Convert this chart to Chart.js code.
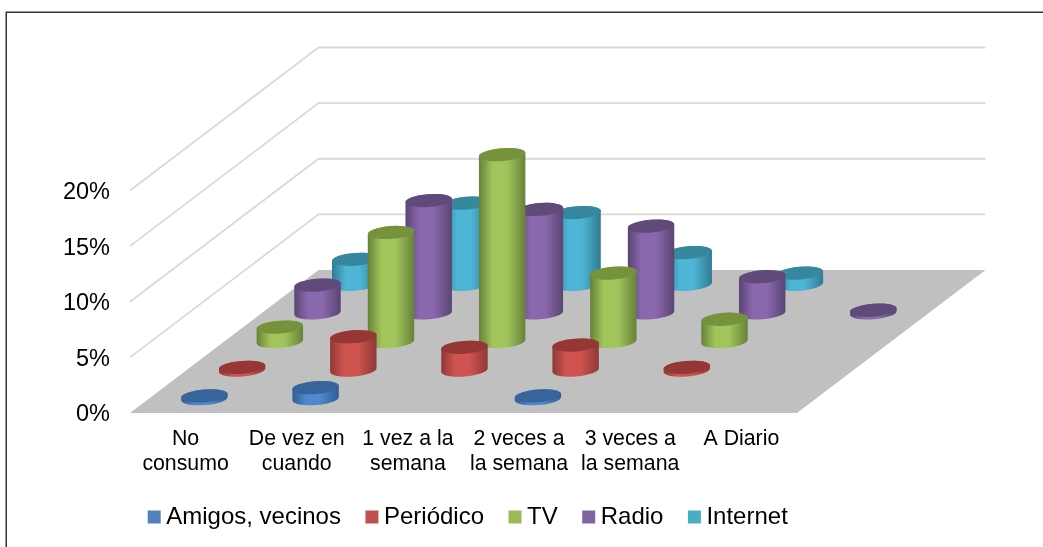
<!DOCTYPE html>
<html><head><meta charset="utf-8">
<style>html,body{margin:0;padding:0;background:#fff}#w{position:relative;width:1043px;height:547px}</style>
<script src="https://cdn.jsdelivr.net/npm/chart.js@4"></script>
</head><body><div id="w"><canvas id="c" width="1043" height="547"></canvas></div>
<script>
const categories = [["No","consumo"],["De vez en","cuando"],["1 vez a la","semana"],["2 veces a","la semana"],["3 veces a","la semana"],"A Diario"];
const amigos    = [0.25, 1.0, null, 0.25, null, null];
const periodico = [0.25, 3.0, 2.05, 2.25, 0.25, null];
const tv        = [1.3, 9.8, 16.8, 6.15, 2.0, null];
const radio     = [2.5, 10.1, 9.3, 7.8, 3.25, 0.25];
const internet  = [2.25, 7.3, 6.45, 2.85, 1.0, null];
const seriesNames = ["Amigos, vecinos","Periódico","TV","Radio","Internet"];
const seriesValues = [amigos, periodico, tv, radio, internet];
const legendColors = ["#4F81BD","#C0504D","#9BBB59","#8064A2","#4BACC6"];
const shades = [
 {mid:"#4F88CC",edge:"#2F5E94",top:"#37659B"},
 {mid:"#CF5450",edge:"#8F3835",top:"#943735"},
 {mid:"#A1C55B",edge:"#67813A",top:"#76923C"},
 {mid:"#8A68AE",edge:"#5A4573",top:"#5F4A7A"},
 {mid:"#4EB5D6",edge:"#2F7B92",top:"#37879E"}
];
const DEPTH_X = 188.5, DEPTH_Y = 143, FONT = '"Liberation Sans", Arial, sans-serif';
const TILT = -4.5 * Math.PI / 180, RY = 6.4;

function rowOffset(s){ const n = seriesNames.length; return {x:(s+0.5)*DEPTH_X/n, y:(s+0.5)*DEPTH_Y/n}; }

function cylinder(ctx, cx, baseY, topY, w, sh){
  const a = w/2;
  const g = ctx.createLinearGradient(cx-a,0,cx+a,0);
  g.addColorStop(0,sh.edge); g.addColorStop(.3,sh.mid); g.addColorStop(.6,sh.mid); g.addColorStop(1,sh.edge);
  ctx.beginPath();
  ctx.ellipse(cx,baseY,a,RY,TILT,0,Math.PI);
  ctx.ellipse(cx,topY,a,RY,TILT,Math.PI,2*Math.PI);
  ctx.closePath();
  ctx.fillStyle = g; ctx.fill();
  ctx.beginPath();
  ctx.ellipse(cx,topY,a,RY,TILT,0,2*Math.PI);
  ctx.fillStyle = sh.top; ctx.fill();
}

const scene = {
  id:'scene',
  beforeDraw(chart){
    const ctx = chart.ctx;
    ctx.save();
    ctx.strokeStyle="#333"; ctx.lineWidth=1.5;
    ctx.beginPath(); ctx.moveTo(6.25,547); ctx.lineTo(6.25,12.25); ctx.lineTo(1043,12.25); ctx.stroke();
    ctx.restore();
    const L = chart.legend;
    const h = L.bottom - L.top;
    L.left = 0; L.right = 942;
    L.top = 474; L.bottom = L.top + h;
  },
  beforeDatasetsDraw(chart){
    const {ctx, chartArea:a, scales:{y}} = chart;
    ctx.save();
    ctx.strokeStyle="#D9D9D9"; ctx.lineWidth=1.8;
    y.ticks.forEach(t=>{
      if(t.value===0) return;
      const p = y.getPixelForValue(t.value);
      ctx.beginPath(); ctx.moveTo(a.left,p); ctx.lineTo(a.left+DEPTH_X,p-DEPTH_Y); ctx.lineTo(a.right+DEPTH_X,p-DEPTH_Y); ctx.stroke();
    });
    const f = y.getPixelForValue(0);
    ctx.beginPath(); ctx.moveTo(a.left,f); ctx.lineTo(a.right,f); ctx.lineTo(a.right+DEPTH_X,f-DEPTH_Y); ctx.lineTo(a.left+DEPTH_X,f-DEPTH_Y); ctx.closePath();
    ctx.fillStyle="#C0C0C0"; ctx.fill();
    ctx.restore();
  },
  beforeDatasetDraw(chart,args){
    const ctx = chart.ctx, off = rowOffset(args.index), sh = shades[args.index];
    ctx.save();
    args.meta.data.forEach((el,j)=>{
      if(seriesValues[args.index][j]==null) return;
      cylinder(ctx, el.x+off.x, el.base-off.y, el.y-off.y, el.width, sh);
    });
    ctx.restore();
    return false;
  }
};

new Chart(document.getElementById('c'),{
  type:'bar',
  data:{labels:categories,datasets:seriesNames.map((n,i)=>({label:n,data:seriesValues[i],backgroundColor:legendColors[i],borderWidth:0,grouped:false,barPercentage:46.5/111,categoryPercentage:1}))},
  options:{
    responsive:false,animation:false,
    layout:{padding:{top:190.5,right:246,left:0,bottom:0}},
    scales:{
      x:{grid:{display:false},border:{display:false},
         ticks:{color:"#000",font:{family:FONT,size:21.3,lineHeight:1.16},padding:6,autoSkip:false,maxRotation:0,minRotation:0},
         afterFit(s){ s.height = 547-413-s.chart.legend.height; }},
      y:{min:0,max:20,grid:{display:false},border:{display:false},
         ticks:{stepSize:5,color:"#000",font:{family:FONT,size:23.5},padding:12,labelOffset:2,callback:v=>v+'%'},
         afterFit(s){ s.width = 130; }}
    },
    plugins:{
      tooltip:{enabled:false},
      legend:{display:true,position:'bottom',
        labels:{color:"#000",font:{family:FONT,size:24},usePointStyle:true,pointStyle:'rect',boxWidth:0.01,boxHeight:13,padding:31,
          generateLabels(chart){return chart.data.datasets.map((d,i)=>({text:d.label,fillStyle:d.backgroundColor,strokeStyle:d.backgroundColor,lineWidth:0,pointStyle:'rect',datasetIndex:i,fontColor:"#000"}));}}}
    }
  },
  plugins:[scene]
});
</script></body></html>
